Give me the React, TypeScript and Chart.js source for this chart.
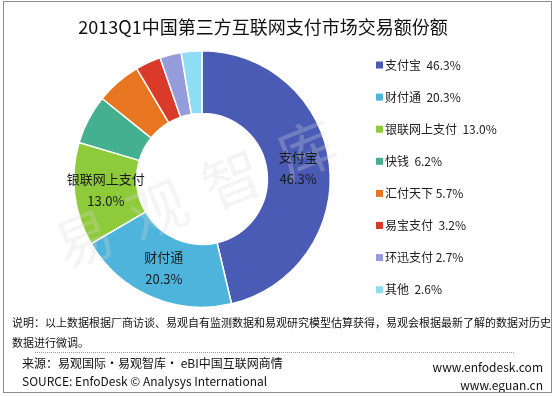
import { useEffect, useRef } from "react";
import { Chart, registerables } from "chart.js";

Chart.register(...registerables);

const TITLE = "2013Q1中国第三方互联网支付市场交易额份额";
const categories = ["支付宝", "财付通", "银联网上支付", "快钱", "汇付天下", "易宝支付", "环迅支付", "其他"];
const shares = [46.3, 20.3, 13.0, 6.2, 5.7, 3.2, 2.7, 2.6];
const legendGaps = ["  ", "  ", "  ", "  ", " ", "  ", " ", "  "];
const colors = ["#4A5BB5", "#4FB4DC", "#8ECB3A", "#45B08F", "#E8751F", "#D93A2A", "#959CDB", "#8FDDF5"];
const labeledSlices = [0, 1, 2];
const NOTE_LINES = [
  "说明：以上数据根据厂商访谈、易观自有监测数据和易观研究模型估算获得，易观会根据最新了解的数据对历史",
  "数据进行微调。",
];
const SOURCE_LINES = ["来源：易观国际·易观智库· eBI中国互联网商情", "SOURCE: EnfoDesk © Analysys International"];
const SITES = ["www.enfodesk.com", "www.eguan.cn"];
const WATERMARK = "易观智库";

const FONT = '"Noto Sans CJK SC", "Noto Sans", sans-serif';

const decorPlugin = {
  id: "decor",
  beforeDraw(chart: any) {
    const ctx = chart.ctx;
    ctx.save();
    ctx.fillStyle = "#ffffff";
    ctx.fillRect(0, 0, chart.width, chart.height);
    ctx.restore();
  },
  afterDraw(chart: any) {
    const ctx: CanvasRenderingContext2D = chart.ctx;
    ctx.save();

    // watermark
    ctx.save();
    ctx.translate(205, 190);
    ctx.rotate(-22 * Math.PI / 180);
    ctx.font = `58px ${FONT}`;
    ctx.textAlign = "center";
    ctx.textBaseline = "middle";
    (ctx as any).letterSpacing = "22px";
    ctx.fillStyle = "rgba(215,215,215,0.28)";
    ctx.fillText(WATERMARK, 0, 0);
    ctx.restore();

    // slice labels
    const meta = chart.getDatasetMeta(0);
    ctx.fillStyle = "#1a1a1a";
    ctx.font = `13px ${FONT}`;
    ctx.textAlign = "center";
    ctx.textBaseline = "middle";
    labeledSlices.forEach((i) => {
      const arc = meta.data[i];
      const p = arc.tooltipPosition();
      ctx.fillText(categories[i], p.x, p.y - 11);
      ctx.fillText(shares[i].toFixed(1) + "%", p.x, p.y + 11);
    });

    // title
    ctx.fillStyle = "#111";
    ctx.font = `18px ${FONT}`;
    ctx.textAlign = "center";
    ctx.fillText(TITLE, 263, 27);

    // legend
    ctx.font = `12px ${FONT}`;
    ctx.textAlign = "left";
    categories.forEach((c, i) => {
      const y = 65 + i * 32.1;
      ctx.fillStyle = colors[i];
      ctx.fillRect(376, y - 3.5, 7, 7);
      ctx.fillStyle = "#222";
      ctx.fillText(`${c}${legendGaps[i]}${shares[i].toFixed(1)}%`, 385, y);
    });

    // notes
    ctx.font = `11px ${FONT}`;
    ctx.fillStyle = "#111";
    ctx.fillText(NOTE_LINES[0], 12, 323);
    ctx.fillText(NOTE_LINES[1], 12, 343);

    // dotted line
    ctx.strokeStyle = "#9a9a9a";
    ctx.lineWidth = 1;
    ctx.setLineDash([1, 1]);
    ctx.beginPath();
    ctx.moveTo(35, 352.5);
    ctx.lineTo(515, 352.5);
    ctx.stroke();
    ctx.setLineDash([]);

    ctx.font = `12px ${FONT}`;
    ctx.fillStyle = "#111";
    ctx.fillText(SOURCE_LINES[0], 22, 363);
    ctx.fillText(SOURCE_LINES[1], 22, 381);
    ctx.textAlign = "right";
    ctx.fillText(SITES[0], 543, 367);
    ctx.fillText(SITES[1], 543, 385);

    // frame
    ctx.strokeStyle = "#8c8c8c";
    ctx.lineWidth = 1;
    ctx.strokeRect(3.5, 1.5, 548, 391);

    ctx.restore();
  },
};

export default function App() {
  const ref = useRef<HTMLCanvasElement>(null);
  useEffect(() => {
    document.body.style.margin = "0";
    const chart = new Chart(ref.current!, {
      type: "doughnut",
      data: {
        labels: categories,
        datasets: [
          {
            data: shares,
            backgroundColor: colors,
            borderColor: "#ffffff",
            borderWidth: 1.5,
          },
        ],
      },
      options: {
        responsive: false,
        animation: false,
        cutout: "51%",
        layout: { padding: { left: 73, top: 50, right: 225, bottom: 88 } },
        plugins: {
          legend: { display: false },
          title: { display: false },
          tooltip: { enabled: false },
        },
      },
      plugins: [decorPlugin],
    });
    return () => chart.destroy();
  }, []);
  return (
    <div style={{ width: 556, height: 396 }}>
      <canvas ref={ref} width={556} height={396} style={{ display: "block", width: 556, height: 396 }} />
    </div>
  );
}
